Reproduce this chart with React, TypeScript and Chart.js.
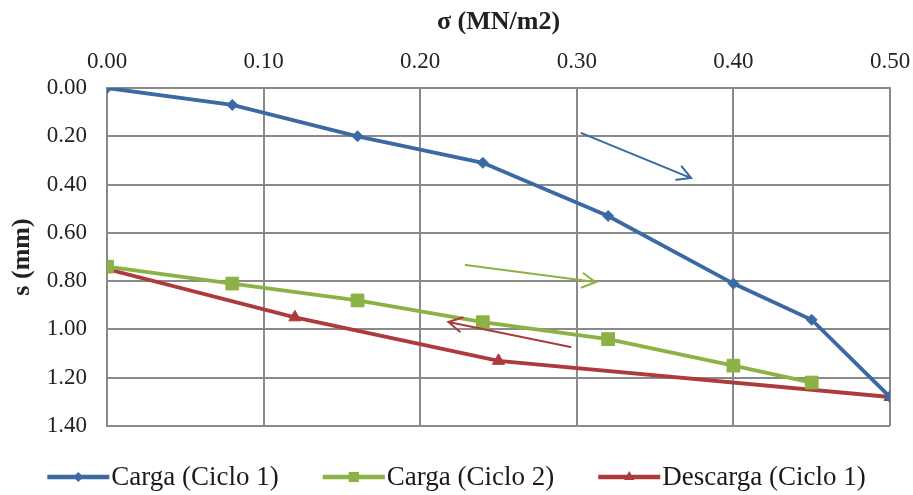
import React, { useEffect, useRef } from "react";
import { Chart, registerables } from "chart.js";

Chart.register(...registerables);

// ---- Data ----
const seriesNames = ["Carga (Ciclo 1)", "Carga (Ciclo 2)", "Descarga (Ciclo 1)"];

const sigmaCarga1 = [0, 0.08, 0.16, 0.24, 0.32, 0.4, 0.45, 0.5];
const sCarga1 = [0, 0.07, 0.2, 0.31, 0.53, 0.81, 0.96, 1.28];

const sigmaCarga2 = [0, 0.08, 0.16, 0.24, 0.32, 0.4, 0.45];
const sCarga2 = [0.74, 0.81, 0.88, 0.97, 1.04, 1.15, 1.22];

const sigmaDescarga1 = [0, 0.12, 0.25, 0.5];
const sDescarga1 = [0.75, 0.95, 1.13, 1.28];

// annotation arrows (data units): from -> to
const arrowFromX = [0.303, 0.229, 0.296];
const arrowFromY = [0.187, 0.733, 1.073];
const arrowToX = [0.373, 0.312, 0.218];
const arrowToY = [0.373, 0.804, 0.969];

const xTickMin = 0;
const xTickMax = 0.5;
const xTickStep = 0.1;
const yTickMin = 0;
const yTickMax = 1.4;
const yTickStep = 0.2;

// ---- Styles ----
const COLORS = ["#3B69A3", "#8CB145", "#AD3A3C"];
const MARKERS = ["rectRot", "rect", "triangle"];
const MARKER_R = [5.5, 9, 7];
const LEGEND_MARKER_R = [5, 6, 6];
const FONT = "'Liberation Serif', 'Times New Roman', serif";
const GRID = "#8a8a8a";

const toPts = (xs: number[], ys: number[]) => xs.map((x, i) => ({ x, y: ys[i] }));

function drawMarker(ctx: CanvasRenderingContext2D, style: string, r: number, x: number, y: number) {
  ctx.beginPath();
  if (style === "rectRot") {
    ctx.moveTo(x, y - r);
    ctx.lineTo(x + r, y);
    ctx.lineTo(x, y + r);
    ctx.lineTo(x - r, y);
  } else if (style === "rect") {
    ctx.rect(x - r * 0.85, y - r * 0.85, r * 1.7, r * 1.7);
  } else {
    ctx.moveTo(x, y - r);
    ctx.lineTo(x + r * 0.87, y + r * 0.5);
    ctx.lineTo(x - r * 0.87, y + r * 0.5);
  }
  ctx.closePath();
  ctx.fill();
}

const arrowPlugin = {
  id: "arrows",
  afterDatasetsDraw(chart: any) {
    const { ctx, scales } = chart;
    const xs = scales.x;
    const ys = scales.y;
    ctx.save();
    for (let i = 0; i < arrowFromX.length; i++) {
      const x1 = xs.getPixelForValue(arrowFromX[i]);
      const y1 = ys.getPixelForValue(arrowFromY[i]);
      const x2 = xs.getPixelForValue(arrowToX[i]);
      const y2 = ys.getPixelForValue(arrowToY[i]);
      const ang = Math.atan2(y2 - y1, x2 - x1);
      const L = 15;
      const a = 0.5;
      ctx.strokeStyle = COLORS[i];
      ctx.lineWidth = 2;
      ctx.lineCap = "round";
      ctx.beginPath();
      ctx.moveTo(x1, y1);
      ctx.lineTo(x2, y2);
      ctx.moveTo(x2 - L * Math.cos(ang - a), y2 - L * Math.sin(ang - a));
      ctx.lineTo(x2, y2);
      ctx.lineTo(x2 - L * Math.cos(ang + a), y2 - L * Math.sin(ang + a));
      ctx.stroke();
    }
    ctx.restore();
  },
};

const legendPlugin = {
  id: "customLegend",
  afterDraw(chart: any) {
    const { ctx, width } = chart;
    ctx.save();
    ctx.font = `27px ${FONT}`;
    ctx.textBaseline = "middle";
    ctx.textAlign = "left";
    const y = 477;
    const lineLen = 62;
    const textGap = 2;
    const itemGap = 44;
    const widths = seriesNames.map((n) => ctx.measureText(n).width);
    const total =
      widths.reduce((a, b) => a + b, 0) + seriesNames.length * (lineLen + textGap) + itemGap * (seriesNames.length - 1);
    let x = (width - total) / 2;
    for (let i = 0; i < seriesNames.length; i++) {
      ctx.strokeStyle = COLORS[i];
      ctx.lineWidth = 4.5;
      ctx.beginPath();
      ctx.moveTo(x, y);
      ctx.lineTo(x + lineLen, y);
      ctx.stroke();
      ctx.fillStyle = COLORS[i];
      drawMarker(ctx, MARKERS[i], LEGEND_MARKER_R[i], x + lineLen / 2, y);
      ctx.fillStyle = "#1a1a1a";
      ctx.fillText(seriesNames[i], x + lineLen + textGap, y + 1);
      x += lineLen + textGap + widths[i] + itemGap;
    }
    ctx.restore();
  },
};

export default function App() {
  const ref = useRef<HTMLCanvasElement | null>(null);

  useEffect(() => {
    document.body.style.margin = "0";
    if (!ref.current) return;
    const xsList = [sigmaCarga1, sigmaCarga2, sigmaDescarga1];
    const ysList = [sCarga1, sCarga2, sDescarga1];
    const chart = new Chart(ref.current, {
      type: "scatter",
      data: {
        datasets: seriesNames.map((name, i) => ({
          label: name,
          data: toPts(xsList[i], ysList[i]),
          showLine: true,
          borderColor: COLORS[i],
          backgroundColor: COLORS[i],
          borderWidth: 3.8,
          pointStyle: MARKERS[i] as any,
          pointRadius: MARKER_R[i],
          pointBorderWidth: 1,
          tension: 0,
        })),
      },
      options: {
        animation: false,
        responsive: false,
        layout: { padding: { left: 0, top: 0, right: 23, bottom: 69 } },
        plugins: {
          legend: { display: false },
          tooltip: { enabled: false },
        },
        scales: {
          x: {
            type: "linear",
            position: "top",
            min: xTickMin,
            max: xTickMax,
            afterFit: (s: any) => {
              s.height = 88;
              s.paddingLeft = 0;
              s.paddingRight = 0;
            },
            ticks: {
              stepSize: xTickStep,
              padding: 12,
              color: "#222",
              font: { family: FONT, size: 23 },
              callback: (v: any) => Number(v).toFixed(2),
            },
            grid: { color: GRID, lineWidth: 2, drawTicks: false, tickLength: 0 },
            border: { display: true, color: GRID, width: 2 },
            title: {
              display: true,
              text: "σ (MN/m2)",
              color: "#222",
              font: { family: FONT, size: 26, weight: "bold" },
              padding: { top: 7, bottom: 0 },
            },
          },
          y: {
            type: "linear",
            reverse: true,
            min: yTickMin,
            max: yTickMax,
            afterFit: (s: any) => {
              s.width = 107;
              s.paddingTop = 0;
              s.paddingBottom = 0;
            },
            ticks: {
              stepSize: yTickStep,
              padding: 20,
              color: "#222",
              font: { family: FONT, size: 23 },
              callback: (v: any) => Number(v).toFixed(2),
            },
            grid: { color: GRID, lineWidth: 2, drawTicks: false, tickLength: 0 },
            border: { display: true, color: GRID, width: 2 },
            title: {
              display: true,
              text: "s (mm)",
              color: "#222",
              font: { family: FONT, size: 26, weight: "bold" },
              padding: { top: 7, bottom: 0 },
            },
          },
        },
      },
      plugins: [arrowPlugin, legendPlugin],
    });
    return () => chart.destroy();
  }, []);

  return (
    <div style={{ width: 913, height: 495 }}>
      <canvas ref={ref} width={913} height={495} />
    </div>
  );
}
